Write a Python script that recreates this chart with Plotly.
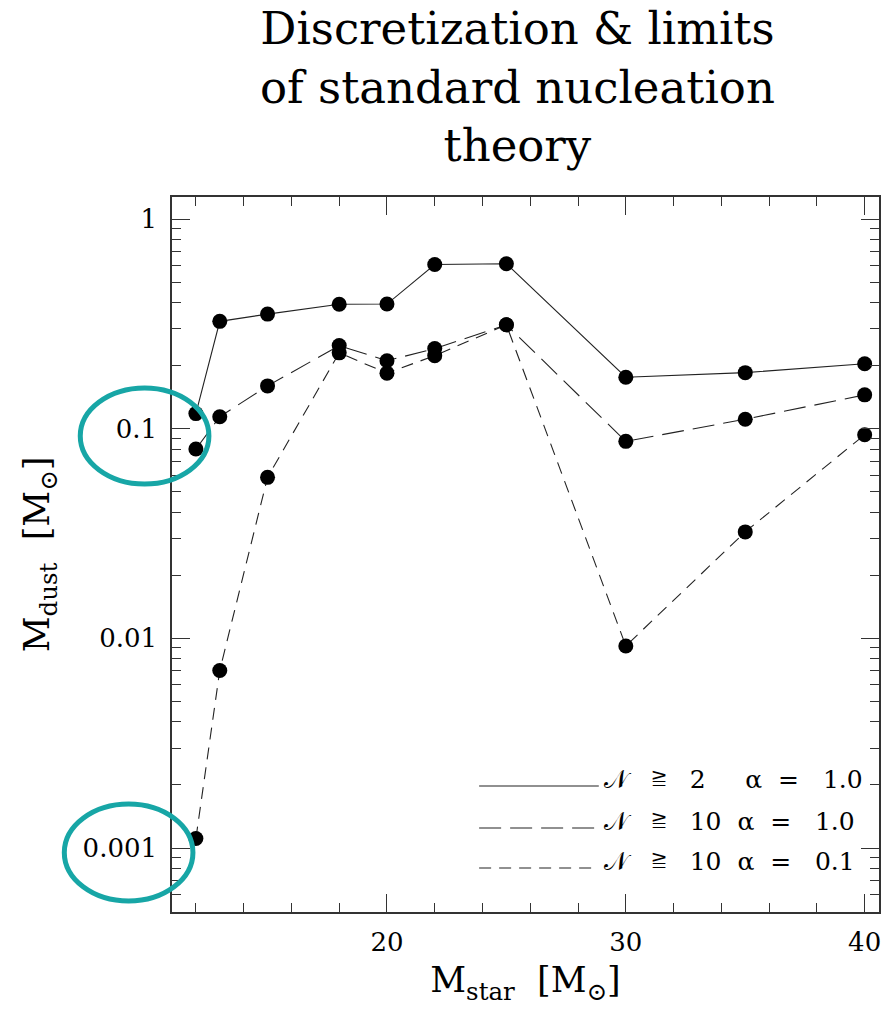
import plotly.graph_objects as go

# ---- data ----
m_star = [12, 13, 15, 18, 20, 22, 25, 30, 35, 40]
dust_n2_a10 = [0.118, 0.325, 0.352, 0.392, 0.393, 0.607, 0.612, 0.176, 0.185, 0.204]
dust_n10_a10 = [0.080, 0.114, 0.160, 0.249, 0.211, 0.241, 0.313, 0.087, 0.111, 0.145]
dust_n10_a01 = [0.00111, 0.00703, 0.0586, 0.230, 0.184, 0.223, 0.313, 0.0092, 0.0322, 0.0936]

NB = "\u00a0"
series_names = [f"𝒩{NB*3}≧{NB*3}2{NB*5}α{NB*2}={NB*3}1.0",
                f"𝒩{NB*3}≧{NB*3}10{NB*2}α{NB*2}={NB*3}1.0",
                f"𝒩{NB*3}≧{NB*3}10{NB*2}α{NB*2}={NB*3}0.1"]
series_dash = ["solid", "22px,9px", "12px,8px"]

x_major = [20, 30, 40]
x_minor = [12, 14, 16, 18, 22, 24, 26, 28, 32, 34, 36, 38]
y_major = [0.001, 0.01, 0.1, 1]
y_major_text = ["0.001", "0.01", "0.1", "1"]
y_minor = [k * 10 ** e for e in range(-4, 0) for k in range(2, 10)]

title_text = "Discretization & limits<br>of standard nucleation<br>theory"

# ---- layout geometry (pixels) ----
W, H = 890, 1013
L, R, T, B = 172, 881, 197, 912


def px_x(px):
    return (px - L) / (R - L)


def px_y(py):
    return (B - py) / (B - T)


SERIF = "DejaVu Serif"
fig = go.Figure()
for yv, name, dash in zip([dust_n2_a10, dust_n10_a10, dust_n10_a01], series_names, series_dash):
    fig.add_trace(go.Scatter(
        x=m_star, y=yv, name=name, mode="lines+markers",
        line=dict(color="#222222", width=1.1, dash=dash),
        marker=dict(color="black", size=15),
        showlegend=False,
    ))

shapes = []
annotations = []
# legend drawn in lower right, as in the reference
leg_rows = [786, 828, 868]
for row_y, name, dash in zip(leg_rows, series_names, series_dash):
    shapes.append(dict(type="line", xref="paper", yref="paper",
                       x0=px_x(480), x1=px_x(600), y0=px_y(row_y), y1=px_y(row_y),
                       line=dict(color="#222222", width=1.1, dash=dash)))
    annotations.append(dict(xref="paper", yref="paper", x=px_x(603), y=px_y(row_y - 7),
                            text=name, showarrow=False, xanchor="left", yanchor="middle",
                            font=dict(family=SERIF, size=25, color="black")))

# title
annotations.append(dict(xref="paper", yref="paper", x=px_x(518), y=px_y(0),
                        text=title_text, showarrow=False, xanchor="center", yanchor="top",
                        align="center", font=dict(family=SERIF, size=45, color="black")))

# teal highlight ellipses around tick labels
teal = "#17a6a6"
for (x0, y0, x1, y1) in [(80, 388, 209, 484), (64, 804, 193, 901)]:
    shapes.append(dict(type="circle", xref="paper", yref="paper",
                       x0=px_x(x0), x1=px_x(x1), y0=px_y(y1), y1=px_y(y0),
                       line=dict(color=teal, width=5)))

fig.update_layout(
    width=W, height=H,
    margin=dict(l=L, r=W - R, t=T, b=H - B, pad=0),
    paper_bgcolor="white", plot_bgcolor="white",
    shapes=shapes, annotations=annotations,
    showlegend=False,
)

fig.update_xaxes(
    type="linear", range=[11, 40.6],
    showgrid=False, zeroline=False,
    showline=True, linecolor="#333333", linewidth=1.5, mirror="ticks",
    ticks="inside", ticklen=18, tickwidth=1.2, tickcolor="#333333",
    tickvals=x_major, ticktext=[str(v) for v in x_major],
    tickfont=dict(family=SERIF, size=26, color="black"),
    ticklabelstandoff=6,
    minor=dict(tickvals=x_minor, ticks="inside", ticklen=9, tickwidth=1.2, tickcolor="#333333",
               showgrid=False),
    title=dict(text="M<sub>star</sub>  [M<sub>⊙</sub>]",
               font=dict(family=SERIF, size=35, color="black"), standoff=12),
)
fig.update_yaxes(
    type="log", range=[-3.305, 0.105],
    showgrid=False, zeroline=False,
    showline=True, linecolor="#333333", linewidth=1.5, mirror="ticks",
    ticks="inside", ticklen=18, tickwidth=1.2, tickcolor="#333333",
    tickvals=y_major, ticktext=y_major_text,
    tickfont=dict(family=SERIF, size=26, color="black"),
    ticklabelstandoff=8,
    minor=dict(tickvals=y_minor, ticks="inside", ticklen=9, tickwidth=1.2, tickcolor="#333333",
               showgrid=False),
    title=dict(text="M<sub>dust</sub>  [M<sub>⊙</sub>]",
               font=dict(family=SERIF, size=35, color="black"), standoff=22),
)

fig.write_html("out.html")
